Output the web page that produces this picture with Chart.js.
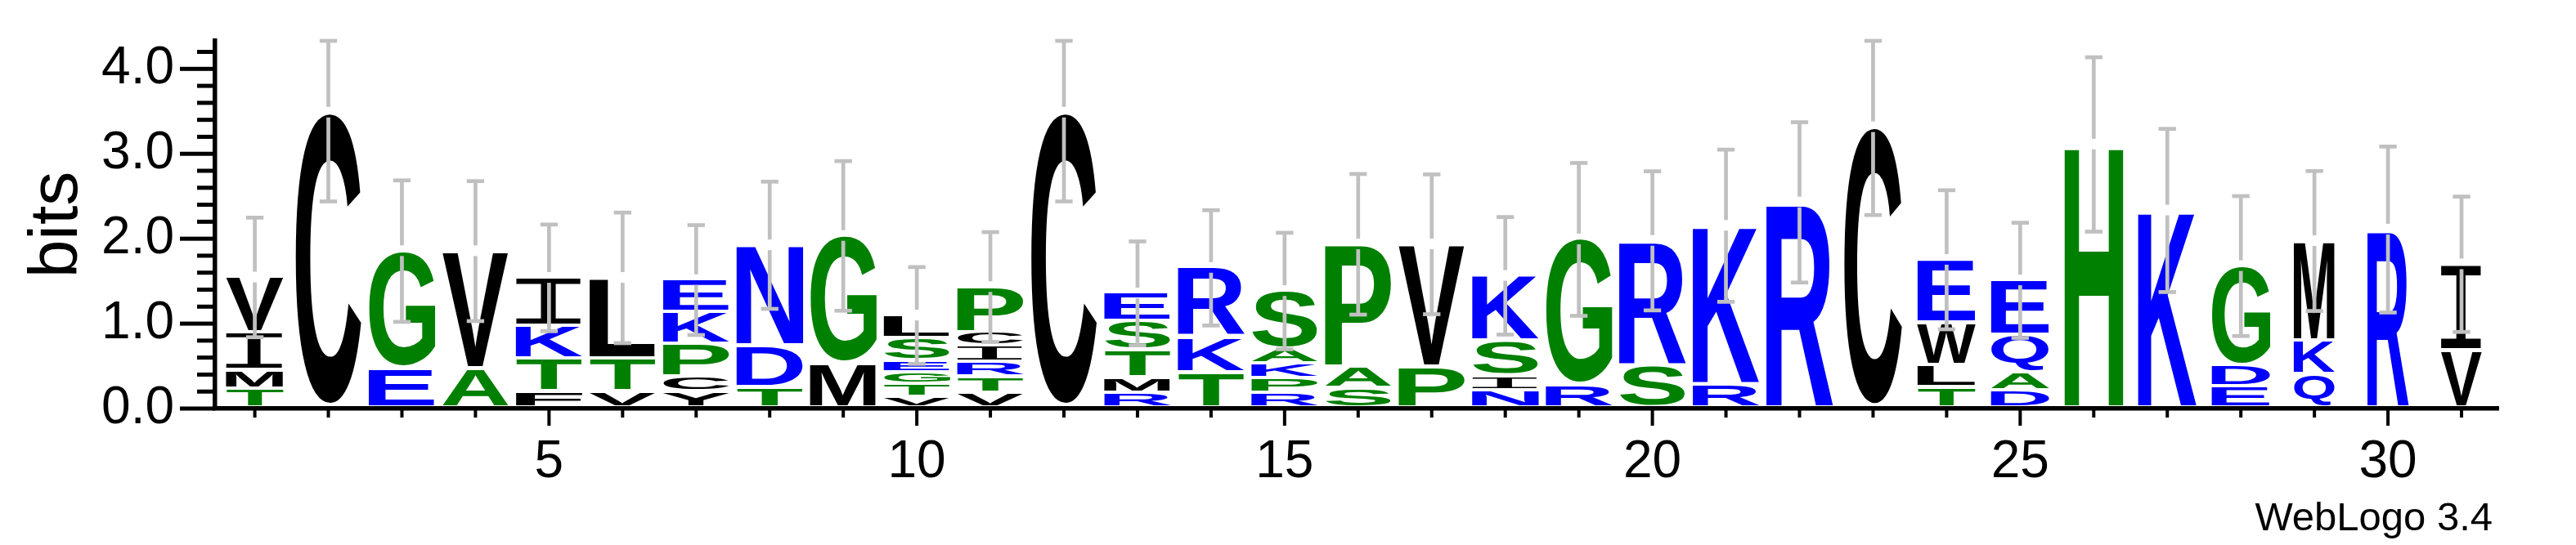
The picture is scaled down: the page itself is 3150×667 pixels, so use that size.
<!DOCTYPE html>
<html>
<head>
<meta charset="utf-8">
<script src="https://cdn.jsdelivr.net/npm/chart.js"></script>
<style>
  html, body { margin: 0; padding: 0; background: #ffffff; }
  canvas { display: block; }
</style>
</head>
<body>
<canvas id="logo" width="3150" height="667"></canvas>
<script>
// ---------------- data ----------------
const positions = [1,2,3,4,5,6,7,8,9,10,11,12,13,14,15,16,17,18,19,20,21,22,23,24,25,26,27,28,29,30,31];

// letters of each stack, from bottom to top
const stackLetters = ["TMIV","C","EG","AV","FTKI","VTL","YCPKE","TDN","MG","VTGESL","VTRICP","C",
  "RMTSE","TKR","RPKAS","SAP","PV","NISK","RG","SR","RK","R","C","TLWE","DAQE","H","K","EDG","QKM","R","VI"];

// height (bits) of each letter, same order as stackLetters
const stackHeights = [
  [0.224,0.218,0.439,0.663],
  [3.486],
  [0.463,1.391],
  [0.463,1.391],
  [0.192,0.385,0.385,0.577],
  [0.192,0.385,0.962],
  [0.192,0.176,0.385,0.375,0.385],
  [0.240,0.488,1.195],
  [0.515,1.518],
  [0.128,0.144,0.144,0.135,0.266,0.279],
  [0.176,0.192,0.170,0.189,0.163,0.541],
  [3.486],
  [0.176,0.177,0.320,0.346,0.337],
  [0.417,0.417,0.823],
  [0.176,0.170,0.173,0.170,0.695],
  [0.230,0.251,1.453],
  [0.481,1.453],
  [0.206,0.172,0.412,0.773],
  [0.258,1.734],
  [0.498,1.477],
  [0.275,1.878],
  [2.428],
  [3.314],
  [0.240,0.258,0.505,0.749],
  [0.206,0.216,0.436,0.652],
  [3.110],
  [2.333],
  [0.247,0.245,1.186],
  [0.390,0.397,1.186],
  [2.108],
  [0.677,1.022]
];

// error (bits) around the top of each stack
const errorBars = [0.704,1.047,0.833,0.824,0.628,0.769,0.647,0.749,0.881,0.570,0.647,1.047,0.612,0.679,0.686,
  0.828,0.823,0.692,0.900,0.819,0.896,0.944,1.035,0.819,0.678,1.027,0.961,0.824,0.824,0.977,0.797];

// fraction of sequences occupying each column (stack width scaling)
const occupancy = [0.87,1,1,1,1,1,1,1,1,1,1,1,1,1,1,1,1,1,1,1,1,1,0.88,0.88,0.88,0.88,0.88,0.88,0.62,0.62,0.62];

const yTickLabels = ["0.0","1.0","2.0","3.0","4.0"];
const xLabelEvery = 5;
const yAxisTitle = "bits";
const creditText = "WebLogo 3.4";

// residue colour groups
const residueGroups = {
  "#008000": "TGSPAH",
  "#0000ff": "EKNDRQ",
  "#000000": "VMICLFYW"
};

// ---------------- styles ----------------
const Y_MAX = 4.33;
const STACK_HALF_WIDTH = 0.4558;
const LETTER_GAP = 4;
const LETTER_FONT = 'bold 400px "Liberation Sans"';
const I_FONT = '400px "Liberation Mono"';
const ERR_COLOR = '#c0c0c0';
const ERR_LW = 4.7;
const ERR_CAP = 21.3;

function colorOf(ch) {
  for (const c in residueGroups) if (residueGroups[c].includes(ch)) return c;
  return '#000000';
}
function isWhole(v) { return Math.abs(v - Math.round(v)) < 1e-6; }

function drawGlyph(ctx, ch, x0, yTop, w, h, color) {
  if (h <= 0.5 || w <= 0) return;
  ctx.save();
  ctx.font = ch === 'I' ? I_FONT : LETTER_FONT;
  ctx.textAlign = 'left';
  ctx.textBaseline = 'alphabetic';
  const m = ctx.measureText(ch);
  const gw = m.actualBoundingBoxLeft + m.actualBoundingBoxRight;
  const gh = m.actualBoundingBoxAscent + m.actualBoundingBoxDescent;
  ctx.translate(x0, yTop);
  ctx.scale(w / gw, h / gh);
  ctx.fillStyle = color;
  ctx.fillText(ch, m.actualBoundingBoxLeft, m.actualBoundingBoxAscent);
  ctx.restore();
}

const logoPlugin = {
  id: 'seqlogo',
  afterDatasetsDraw(chart) {
    const { ctx, scales: { x, y } } = chart;
    ctx.save();
    // letters
    positions.forEach((pos, i) => {
      const letters = stackLetters[i];
      const hs = stackHeights[i];
      const half = STACK_HALF_WIDTH * occupancy[i];
      const x0 = x.getPixelForValue(pos - half);
      const x1 = x.getPixelForValue(pos + half);
      let cum = 0;
      for (let k = 0; k < letters.length; k++) {
        const yb = y.getPixelForValue(cum) - LETTER_GAP;
        cum += hs[k];
        const yt = y.getPixelForValue(cum);
        drawGlyph(ctx, letters[k], x0, yt, x1 - x0, yb - yt, colorOf(letters[k]));
      }
    });
    // error bars
    ctx.fillStyle = ERR_COLOR;
    positions.forEach((pos, i) => {
      const top = stackHeights[i].reduce((a, b) => a + b, 0);
      const hi = Math.min(top + errorBars[i], Y_MAX);
      const lo = Math.max(top - errorBars[i], 0);
      const xc = x.getPixelForValue(pos);
      const yTop = y.getPixelForValue(top);
      const yHi = y.getPixelForValue(hi);
      const yLo = y.getPixelForValue(lo);
      const upEnd = yTop - 7, lowStart = yTop + 6;
      if (upEnd > yHi) ctx.fillRect(xc - ERR_LW / 2, yHi, ERR_LW, upEnd - yHi);
      if (yLo > lowStart) ctx.fillRect(xc - ERR_LW / 2, lowStart, ERR_LW, yLo - lowStart);
      ctx.fillRect(xc - ERR_CAP / 2, yHi - ERR_LW / 2, ERR_CAP, ERR_LW);
      ctx.fillRect(xc - ERR_CAP / 2, yLo - ERR_LW / 2, ERR_CAP, ERR_LW);
    });
    ctx.restore();
  },
  afterDraw(chart) {
    const { ctx, scales: { x, y }, chartArea } = chart;
    ctx.save();
    ctx.fillStyle = '#000000';
    // y ticks (major every 1.0, minor every 0.2)
    y.ticks.forEach(t => {
      const py = y.getPixelForValue(t.value);
      const len = isWhole(t.value) ? 43 : 22;
      ctx.fillRect(chartArea.left - len, py - 2.5, len, 5);
    });
    // x ticks
    x.ticks.forEach(t => {
      const px = x.getPixelForValue(t.value);
      const len = (Math.round(t.value) % xLabelEvery === 0) ? 21 : 11;
      ctx.fillRect(px - 2, chartArea.bottom, 4, len);
    });
    // credit text
    ctx.font = '49px "Liberation Sans"';
    ctx.textAlign = 'right';
    ctx.textBaseline = 'alphabetic';
    ctx.fillText(creditText, 3048, 649);
    ctx.restore();
  }
};

Chart.defaults.font.family = '"Liberation Sans", Arial, sans-serif';
Chart.defaults.color = '#000000';

new Chart(document.getElementById('logo'), {
  type: 'scatter',
  data: {
    datasets: [{
      data: positions.map((p, i) => ({ x: p, y: stackHeights[i].reduce((a, b) => a + b, 0) })),
      pointRadius: 0,
      showLine: false
    }]
  },
  options: {
    responsive: false,
    animation: false,
    events: [],
    layout: { padding: { top: 50, right: 95, bottom: 0, left: 0 } },
    plugins: { legend: { display: false }, tooltip: { enabled: false } },
    scales: {
      x: {
        type: 'linear',
        min: 0.46,
        max: 31.5,
        grid: { display: false, drawTicks: true, tickLength: 28 },
        border: { display: true, color: '#000000', width: 5.5 },
        ticks: {
          stepSize: 1,
          autoSkip: false,
          includeBounds: false,
          maxRotation: 0,
          padding: 0,
          font: { size: 64 },
          color: '#000000',
          callback: (v) => (isWhole(v) && Math.round(v) % xLabelEvery === 0) ? String(Math.round(v)) : ''
        },
        afterFit: (s) => { s.height = 167; }
      },
      y: {
        type: 'linear',
        min: 0,
        max: Y_MAX,
        grid: { display: false, drawTicks: true, tickLength: 50 },
        border: { display: true, color: '#000000', width: 5.5 },
        title: {
          display: true,
          text: yAxisTitle,
          font: { size: 84 },
          color: '#000000',
          padding: { top: 20, bottom: 0 }
        },
        ticks: {
          stepSize: 0.2,
          autoSkip: false,
          includeBounds: false,
          padding: 0,
          font: { size: 64 },
          color: '#000000',
          callback: (v) => isWhole(v) ? yTickLabels[Math.round(v)] : ''
        },
        afterFit: (s) => { s.width = 263; }
      }
    }
  },
  plugins: [logoPlugin]
});
</script>
</body>
</html>
